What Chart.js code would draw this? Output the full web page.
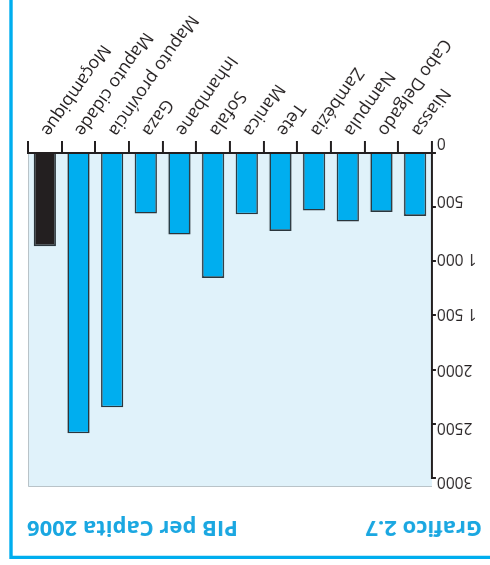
<!DOCTYPE html>
<html>
<head>
<meta charset="utf-8">
<script src="https://cdn.jsdelivr.net/npm/chart.js@4/dist/chart.umd.min.js"></script>
<style>
  html, body { margin: 0; padding: 0; background: #ffffff; }
  /* the whole figure is printed turned half a turn */
  #figure { position: relative; width: 490px; height: 565px; transform: rotate(180deg); }
  canvas { display: block; }
</style>
</head>
<body>
<div id="figure"><canvas id="pib" width="490" height="565"></canvas></div>
<script>
// Provinces, north to south, followed by the national figure
const provinces = ['Niassa', 'Cabo Delgado', 'Nampula', 'Zambézia', 'Tete', 'Manica',
                   'Sofala', 'Inhambane', 'Gaza', 'Maputo província', 'Maputo cidade', 'Moçambique'];
const pibPerCapita = [581, 544, 633, 531, 719, 566, 1153, 753, 559, 2348, 2588, 860];
const yTickLabels = ['0', '500', '1 000', '1 500', '2000', '2500', '3000'];
const chartNumber = 'Grafico 2.7';
const chartSubject = 'PIB per Capita 2006';

const INK = '#231F20';
const CYAN = '#00AEEF';
const TITLE_BLUE = '#1AA7E1';
const PANEL = '#E0F2FA';
const FONT = '"Open Sans", "Noto Sans", sans-serif';

// small vertical nudges of the value labels, as typeset
const yLabelShift = [11, 7, 3, 2, 0, -4, -3];

const barColors = provinces.map(p => p === 'Moçambique' ? INK : CYAN);

const panelPlugin = {
  id: 'panel',
  beforeDraw(chart) {
    const { ctx, chartArea: a } = chart;
    ctx.save();
    ctx.fillStyle = PANEL;
    ctx.fillRect(a.left, a.top - 9, a.right - a.left, a.bottom - a.top + 9);
    ctx.strokeStyle = '#B9C3C8';
    ctx.lineWidth = 1;
    ctx.beginPath();
    ctx.moveTo(a.left, a.top - 8.5);
    ctx.lineTo(a.right - 0.5, a.top - 8.5);
    ctx.lineTo(a.right - 0.5, a.bottom);
    ctx.stroke();
    ctx.restore();

    // nudge the value labels of the y axis
    const y = chart.scales.y;
    const items = y.getLabelItems(a);
    items.forEach((it, i) => {
      if (!it._shifted) {
        it.options.translation[1] += (yLabelShift[i] || 0);
        it._shifted = true;
      }
    });
  },
  afterDraw(chart) {
    const { ctx } = chart;
    ctx.save();
    // corner rule of the figure box
    ctx.strokeStyle = CYAN;
    ctx.lineWidth = 3.4;
    ctx.beginPath();
    ctx.moveTo(0, 7.6);
    ctx.lineTo(479, 7.6);
    ctx.lineTo(479, 565);
    ctx.stroke();
    // heading
    ctx.fillStyle = TITLE_BLUE;
    ctx.font = 'bold 22px ' + FONT;
    ctx.textBaseline = 'alphabetic';
    ctx.textAlign = 'left';
    ctx.fillText(chartNumber, 8, 43.5);
    ctx.textAlign = 'right';
    ctx.fillText(chartSubject, 463, 43.5);
    ctx.restore();
  }
};

new Chart(document.getElementById('pib'), {
  type: 'bar',
  data: {
    labels: provinces,
    datasets: [{
      data: pibPerCapita,
      backgroundColor: barColors,
      borderColor: '#2B363C',
      borderWidth: 1.6,
      borderSkipped: 'start',
      barPercentage: 0.66,
      categoryPercentage: 1
    }]
  },
  options: {
    responsive: false,
    animation: false,
    devicePixelRatio: 1,
    layout: { padding: { top: 87, right: 28, left: 0, bottom: 0 } },
    plugins: { legend: { display: false }, tooltip: { enabled: false }, title: { display: false } },
    scales: {
      x: {
        grid: { offset: true, drawOnChartArea: false, drawTicks: true, tickLength: 12, color: INK, lineWidth: 2 },
        border: { display: true, color: INK, width: 2 },
        ticks: {
          autoSkip: false, minRotation: 55, maxRotation: 55, padding: 1,
          color: INK, font: { family: FONT, size: 17.5 }
        },
        afterFit(s) { s.height = 153; }
      },
      y: {
        min: 0, max: 3000,
        grid: { drawOnChartArea: false, drawTicks: true, tickLength: 4, color: INK, lineWidth: 2 },
        border: { display: true, color: INK, width: 2 },
        ticks: {
          stepSize: 500, padding: 1, color: INK,
          font: { family: FONT, size: 15.5 },
          callback: (v, i) => yTickLabels[i]
        },
        afterFit(s) { s.width = 58; }
      }
    }
  },
  plugins: [panelPlugin]
});
</script>
</body>
</html>
